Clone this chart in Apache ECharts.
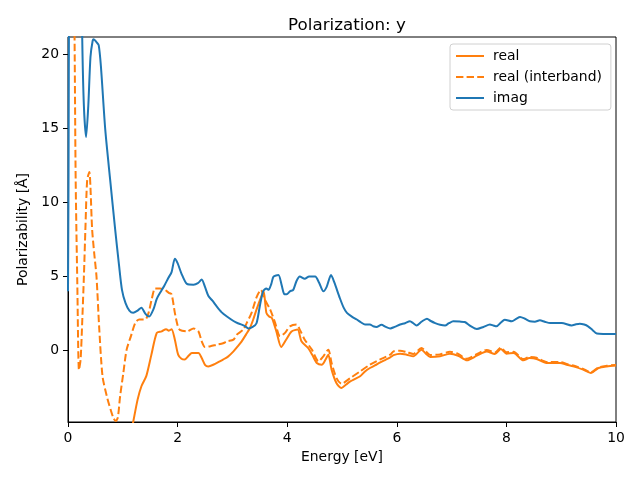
<!DOCTYPE html>
<html><head><meta charset="utf-8">
<script src="https://cdn.jsdelivr.net/npm/echarts@6/dist/echarts.min.js"></script>
<style>html,body{margin:0;padding:0;background:#fff}#c{width:640px;height:480px}</style>
</head><body><div id="c"></div>
<script>
const imagE = [0,0.01,0.02,0.05,0.15,0.22,0.26,0.29,0.33,0.37,0.41,0.45,0.47,0.52,0.56,0.6,0.68,0.77,0.86,0.93,0.985,1.05,1.12,1.19,1.27,1.34,1.41,1.48,1.56,1.62,1.68,1.76,1.83,1.89,1.95,2.0,2.07,2.17,2.29,2.37,2.44,2.5,2.56,2.64,2.71,2.8,2.9,3.02,3.1,3.17,3.23,3.29,3.37,3.44,3.5,3.56,3.62,3.66,3.71,3.75,3.84,3.9,3.95,3.99,4.05,4.11,4.17,4.23,4.32,4.4,4.51,4.58,4.66,4.72,4.8,4.86,4.96,5.03,5.09,5.18,5.27,5.35,5.42,5.51,5.57,5.63,5.72,5.8,5.88,5.96,6.06,6.15,6.24,6.3,6.36,6.45,6.55,6.62,6.7,6.79,6.88,6.95,7.03,7.15,7.24,7.35,7.46,7.58,7.7,7.76,7.82,7.9,7.97,8.1,8.18,8.25,8.34,8.43,8.52,8.61,8.7,8.8,9.01,9.19,9.27,9.34,9.42,9.49,9.57,9.65,9.8,10];
const imagV = [4,12,25,40,45,32,21,16.5,14.4,16.5,19.8,20.9,21.0,20.8,20.6,19.2,14.9,11.5,8.2,5.8,4.1,3.2,2.7,2.55,2.7,2.9,2.5,2.3,2.8,3.5,3.9,4.4,4.9,5.3,6.2,5.9,5.2,4.5,4.45,4.55,4.8,4.3,3.7,3.35,3.0,2.6,2.3,2.0,1.85,1.76,1.65,1.5,1.6,1.85,3.0,4.0,4.2,4.1,4.5,5.0,5.1,4.4,3.8,3.8,4.0,4.1,4.7,5.0,4.85,5.0,5.0,4.6,4.0,4.3,5.1,4.6,3.55,2.9,2.55,2.3,2.1,1.9,1.76,1.76,1.65,1.6,1.75,1.6,1.5,1.6,1.76,1.85,1.98,1.85,1.7,1.95,2.16,2.0,1.86,1.75,1.7,1.85,1.98,1.96,1.93,1.65,1.46,1.6,1.76,1.7,1.64,1.9,2.09,1.98,2.15,2.27,2.15,1.98,1.95,2.05,1.95,1.86,1.86,1.7,1.78,1.82,1.76,1.64,1.4,1.15,1.13,1.12];

const realE = [0,0.3,0.6,0.8,1.0,1.1,1.19,1.27,1.34,1.43,1.52,1.62,1.71,1.79,1.84,1.89,1.95,2.01,2.07,2.13,2.2,2.26,2.38,2.44,2.5,2.56,2.65,2.77,2.83,2.92,3.02,3.1,3.17,3.25,3.32,3.38,3.44,3.53,3.57,3.62,3.67,3.72,3.76,3.81,3.89,3.98,4.08,4.19,4.26,4.38,4.46,4.54,4.63,4.7,4.75,4.81,4.9,4.99,5.07,5.15,5.24,5.33,5.42,5.51,5.6,5.69,5.8,5.88,5.94,6.06,6.18,6.3,6.45,6.53,6.61,6.79,6.97,7.12,7.28,7.46,7.64,7.79,7.9,8.0,8.13,8.31,8.42,8.55,8.73,8.98,9.1,9.22,9.4,9.54,9.68,9.83,10];
const realV = [-60,-45,-25,-15,-8.5,-6.5,-4.8,-3.3,-2.4,-1.7,-0.3,1.2,1.3,1.45,1.35,1.45,0.74,-0.27,-0.55,-0.6,-0.35,-0.16,-0.16,-0.5,-0.95,-1.06,-0.95,-0.72,-0.6,-0.4,-0.05,0.3,0.63,1.1,1.53,2.1,2.77,3.67,4.0,2.55,2.3,2.2,1.8,1.2,0.25,0.74,1.3,1.42,0.63,0.18,-0.3,-0.83,-0.95,-0.6,-0.27,-1.28,-2.2,-2.52,-2.3,-2.07,-1.9,-1.73,-1.4,-1.17,-1.0,-0.8,-0.6,-0.45,-0.3,-0.2,-0.27,-0.38,0.07,-0.2,-0.43,-0.38,-0.2,-0.34,-0.65,-0.34,-0.05,-0.23,0.11,-0.2,-0.16,-0.65,-0.5,-0.56,-0.83,-0.83,-0.95,-1.06,-1.28,-1.5,-1.17,-1.06,-1.0];

const interE = [0,0.05,0.1,0.12,0.14,0.17,0.2,0.23,0.26,0.29,0.32,0.35,0.39,0.41,0.44,0.48,0.52,0.57,0.63,0.71,0.78,0.83,0.87,0.91,0.95,1.01,1.07,1.15,1.23,1.3,1.35,1.41,1.47,1.53,1.59,1.68,1.77,1.84,1.89,1.95,2.0,2.04,2.17,2.29,2.38,2.44,2.5,2.6,2.71,2.83,2.9,3.02,3.08,3.2,3.26,3.35,3.44,3.52,3.59,3.69,3.78,3.87,3.96,4.05,4.17,4.23,4.32,4.45,4.57,4.66,4.75,4.81,4.9,4.99,5.15,5.33,5.51,5.69,5.88,5.94,6.06,6.18,6.3,6.45,6.53,6.61,6.79,6.97,7.12,7.28,7.46,7.64,7.79,7.9,8.0,8.13,8.31,8.42,8.55,8.73,8.98,9.1,9.22,9.4,9.54,9.68,9.83,10];
const interV = [60,45,28,21,11.5,4.5,-1.3,-0.6,2.0,5.0,8.5,11.5,12.05,11.0,8.2,6.5,5.0,1.5,-1.73,-3.1,-4.0,-4.55,-4.75,-4.5,-3.1,-1.5,0.07,1.0,1.9,2.1,2.1,2.1,2.55,3.5,4.2,4.2,4.1,3.9,3.8,2.55,1.7,1.4,1.3,1.5,1.3,0.63,0.25,0.3,0.4,0.5,0.63,0.74,1.08,1.42,1.86,2.55,3.6,4.1,3.45,2.77,1.87,0.97,1.2,1.64,1.76,1.42,0.74,0.07,-0.72,-0.38,0.07,-0.83,-1.85,-2.23,-1.85,-1.4,-0.95,-0.6,-0.27,-0.05,0.0,-0.1,-0.22,0.18,-0.05,-0.3,-0.25,-0.08,-0.22,-0.55,-0.24,0.05,-0.13,0.2,-0.1,-0.08,-0.57,-0.42,-0.48,-0.76,-0.77,-0.89,-1.0,-1.23,-1.46,-1.13,-1.02,-0.96];

const yTicks = [0,5,10,15,20];
const xTicks = [0,2,4,6,8,10];

const zip = (a,b) => a.map((x,i)=>[x,b[i]]);
const FONT = 'DejaVu Sans';
const chart = echarts.init(document.getElementById('c'), null, {renderer:'canvas'});
chart.setOption({
  animation:false,
  backgroundColor:'#fff',
  title:{text:'Polarization: y', left:342, top:12, textAlign:'center',
    textStyle:{fontFamily:FONT, fontSize:16.7, fontWeight:'normal', color:'#000'}},
  grid:{left:68, right:24, top:37, bottom:58, show:true, borderColor:'#000', borderWidth:1, backgroundColor:'transparent'},
  legend:{orient:'vertical', left:450, top:44, padding:[5,9,5,5], itemWidth:28, itemHeight:14, itemGap:7,
    backgroundColor:'rgba(255,255,255,0.8)', borderColor:'#d0d0d0', borderWidth:1, borderRadius:3,
    itemStyle:{opacity:0},
    textStyle:{fontFamily:FONT, fontSize:13.9, color:'#000', padding:[0,0,0,4]},
    data:['real','real (interband)','imag']},
  xAxis:{type:'value', min:0, max:10, interval:2,
    name:'Energy [eV]', nameLocation:'middle', nameGap:28,
    nameTextStyle:{fontFamily:FONT, fontSize:13.9, color:'#000'},
    axisLine:{onZero:false, lineStyle:{color:'#000', width:1}},
    axisTick:{show:true, length:5, lineStyle:{color:'#000'}, customValues:xTicks},
    axisLabel:{fontFamily:FONT, fontSize:13.9, color:'#000', margin:9, customValues:xTicks},
    splitLine:{show:false}},
  yAxis:{type:'value', min:-4.81, max:21.15,
    name:'Polarizability [Å]', nameLocation:'middle', nameGap:36,
    nameTextStyle:{fontFamily:FONT, fontSize:13.9, color:'#000'},
    axisLine:{show:true, onZero:false, lineStyle:{color:'#000', width:1}},
    axisTick:{show:true, length:5, lineStyle:{color:'#000'}, customValues:yTicks},
    axisLabel:{fontFamily:FONT, fontSize:13.9, color:'#000', margin:9, customValues:yTicks},
    splitLine:{show:false}},
  series:[
    {name:'real', type:'line', data:zip(realE,realV), showSymbol:false, symbol:'none', smooth:0.25,
      color:'#ff7f0e', lineStyle:{color:'#ff7f0e', width:2}, clip:true},
    {name:'real (interband)', type:'line', data:zip(interE,interV), showSymbol:false, symbol:'none', smooth:0.25,
      color:'#ff7f0e', lineStyle:{color:'#ff7f0e', width:2, type:[7.4,3.2]}, clip:true},
    {name:'imag', type:'line', data:zip(imagE,imagV), showSymbol:false, symbol:'none', smooth:0.25,
      color:'#1f77b4', lineStyle:{color:'#1f77b4', width:2}, clip:true}
  ]
});
</script></body></html>
